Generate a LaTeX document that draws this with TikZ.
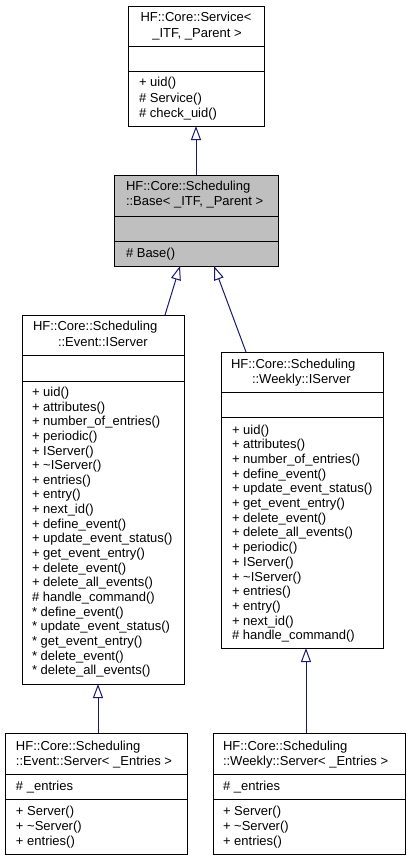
\documentclass[tikz,border=0pt]{standalone}
\usepackage{fontspec}
\setmainfont{Liberation Sans}
\usetikzlibrary{arrows.meta}
\definecolor{navy}{RGB}{25,25,112}
\definecolor{grey75}{RGB}{191,191,191}
\newcommand\fsz{\fontsize{13}{15}\selectfont}
\tikzset{
  umlbox/.style={draw=black, line width=1pt, fill=white, inner sep=0pt, outer sep=0pt, anchor=north west},
  sepline/.style={draw=black, line width=1pt},
  txt/.style={font=\fsz, anchor=base west, inner sep=0pt, outer sep=0pt},
  ctxt/.style={font=\fsz, anchor=base, inner sep=0pt, outer sep=0pt},
  inh/.style={draw=navy, line width=1pt, -{Triangle[length=14pt, width=10pt, fill=white]}}
}
\begin{document}
\begin{tikzpicture}[x=1pt,y=-1pt]
\useasboundingbox (0,0) rectangle (410,860);
% ---------- Service ----------
\node[umlbox, minimum width=136pt, minimum height=120pt] (svc) at (128,6) {};
\draw[sepline] (svc.west |- 0,46) -- (svc.east |- 0,46);
\draw[sepline] (svc.west |- 0,71) -- (svc.east |- 0,71);
\node[ctxt] (svc-t1) at (196,21.7) {HF::Core::Service<};
\node[ctxt] (svc-t2) at (197,37.7) {\_ITF, \_Parent >};
\node[txt] (svc-m1) at (139,86.4) {+ uid()};
\node[txt] (svc-m2) at (139,102) {\# Service()};
\node[txt] (svc-m3) at (139,117.4) {\# check\_uid()};
% ---------- Base ----------
\node[umlbox, fill=grey75, minimum width=164pt, minimum height=91pt] (base) at (114,175) {};
\draw[sepline] (base.west |- 0,216) -- (base.east |- 0,216);
\draw[sepline] (base.west |- 0,241) -- (base.east |- 0,241);
\node[txt] (base-t1) at (126,190.7) {HF::Core::Scheduling};
\node[txt] (base-t2) at (126,205.7) {::Base< \_ITF, \_Parent >};
\node[txt] (base-m1) at (126,257.7) {\# Base()};
% ---------- Event::IServer ----------
\node[umlbox, minimum width=162pt, minimum height=369pt] (evis) at (22,315) {};
\draw[sepline] (evis.west |- 0,355) -- (evis.east |- 0,355);
\draw[sepline] (evis.west |- 0,381) -- (evis.east |- 0,381);
\node[txt] (evis-t1) at (33,330.7) {HF::Core::Scheduling};
\node[txt] (evis-t2) at (58,346.7) {::Event::IServer};
\foreach \m [count=\i from 0] in {+ uid(), + attributes(), + number\_of\_entries(), + periodic(), + IServer(), + \textasciitilde IServer(), + entries(), + entry(), + next\_id(), + define\_event(), + update\_event\_status(), + get\_event\_entry(), + delete\_event(), + delete\_all\_events(), \# handle\_command(), * define\_event(), * update\_event\_status(), * get\_event\_entry(), * delete\_event(), * delete\_all\_events()}
  \node[txt] (evis-m\i) at (32,396.4+\i*14.65) {\m};
% ---------- Weekly::IServer ----------
\node[umlbox, minimum width=162pt, minimum height=296pt] (wkis) at (221,352) {};
\draw[sepline] (wkis.west |- 0,392) -- (wkis.east |- 0,392);
\draw[sepline] (wkis.west |- 0,417) -- (wkis.east |- 0,417);
\node[txt] (wkis-t1) at (231,368.7) {HF::Core::Scheduling};
\node[txt] (wkis-t2) at (252,383.7) {::Weekly::IServer};
\foreach \m [count=\i from 0] in {+ uid(), + attributes(), + number\_of\_entries(), + define\_event(), + update\_event\_status(), + get\_event\_entry(), + delete\_event(), + delete\_all\_events(), + periodic(), + IServer(), + \textasciitilde IServer(), + entries(), + entry(), + next\_id(), \# handle\_command()}
  \node[txt] (wkis-m\i) at (232,434+\i*14.7) {\m};
% ---------- Event::Server ----------
\node[umlbox, minimum width=182pt, minimum height=121pt] (evsrv) at (5,733) {};
\draw[sepline] (evsrv.west |- 0,774) -- (evsrv.east |- 0,774);
\draw[sepline] (evsrv.west |- 0,799) -- (evsrv.east |- 0,799);
\node[txt] (evsrv-t1) at (16,750.5) {HF::Core::Scheduling};
\node[txt] (evsrv-t2) at (16,765) {::Event::Server< \_Entries >};
\node[txt] (evsrv-a1) at (16,790.7) {\# \_entries};
\node[txt] (evsrv-m1) at (16,815.7) {+ Server()};
\node[txt] (evsrv-m2) at (16,830.7) {+ \textasciitilde Server()};
\node[txt] (evsrv-m3) at (16,845.7) {+ entries()};
% ---------- Weekly::Server ----------
\node[umlbox, minimum width=192pt, minimum height=121pt] (wksrv) at (213,733) {};
\draw[sepline] (wksrv.west |- 0,774) -- (wksrv.east |- 0,774);
\draw[sepline] (wksrv.west |- 0,799) -- (wksrv.east |- 0,799);
\node[txt] (wksrv-t1) at (223,750.5) {HF::Core::Scheduling};
\node[txt] (wksrv-t2) at (223,765) {::Weekly::Server< \_Entries >};
\node[txt] (wksrv-a1) at (223,790.7) {\# \_entries};
\node[txt] (wksrv-m1) at (223,815.7) {+ Server()};
\node[txt] (wksrv-m2) at (223,830.7) {+ \textasciitilde Server()};
\node[txt] (wksrv-m3) at (223,845.7) {+ entries()};
% ---------- connectors ----------
\draw[inh] (base.north -| 196,0) -- (svc.south -| 196,0);
\draw[inh] (evis.north -| 165,0) -- (base.south -| 180,0);
\draw[inh] (wkis.north -| 246,0) -- (base.south -| 214,0);
\draw[inh] (evsrv.north -| 98,0) -- (evis.south -| 98,0);
\draw[inh] (wksrv.north -| 306,0) -- (wkis.south -| 306,0);
\end{tikzpicture}
\end{document}
